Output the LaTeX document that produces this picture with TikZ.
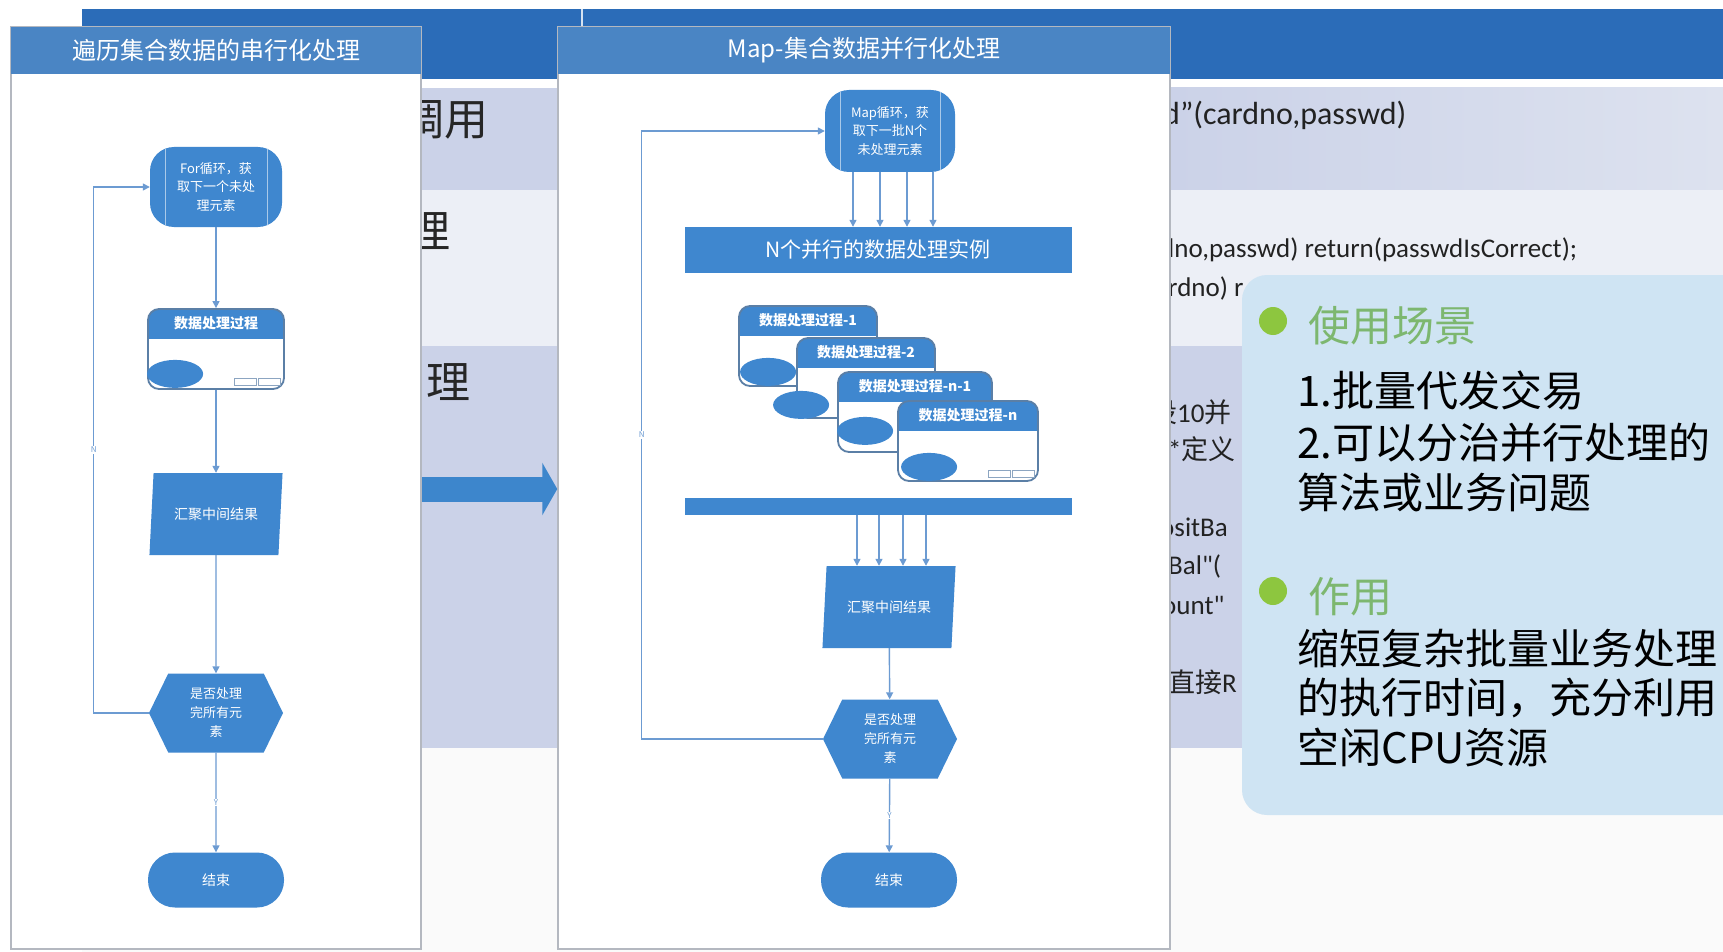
\documentclass[tikz,border=0pt]{standalone}
\usepackage{fontspec}
\setmainfont{Noto Sans CJK SC}
\newfontfamily\codefont{Carlito}
\usetikzlibrary{arrows.meta,shapes.geometric,shapes.symbols}
\definecolor{headblue}{HTML}{2B6CB8}
\definecolor{titleblue}{HTML}{4A85C4}
\definecolor{flowblue}{HTML}{3F87CF}
\definecolor{lineblue}{HTML}{6C9BD2}
\definecolor{cardedge}{HTML}{5B7FA6}
\definecolor{panelgray}{HTML}{B4B8C0}
\definecolor{rowlav}{HTML}{CBD2E8}
\definecolor{rowpale}{HTML}{DDE2EF}
\definecolor{rowlight}{HTML}{ECEFF6}
\definecolor{infoblue}{HTML}{CFE4F3}
\definecolor{dotgreen}{HTML}{8DC63F}
\definecolor{textgreen}{HTML}{7DB76F}
\definecolor{codegray}{HTML}{222222}
\definecolor{arrowblue}{HTML}{3D86CC}

\begin{document}
\begin{tikzpicture}[x=1pt,y=-1pt,
    flow/.style={draw=lineblue,line width=1.4pt,-{Triangle[length=7pt,width=7pt]}},
    blk/.style={fill=flowblue,text=white,inner sep=0pt,align=center},
    loopbox/.style={blk,rounded corners=24pt,minimum width=132pt,minimum height=80pt,font=\fontsize{13}{18.5}\selectfont,
        path picture={\draw[white!55!flowblue,line width=1pt]
            ([xshift=15pt]path picture bounding box.north west) -- ([xshift=15pt]path picture bounding box.south west)
            ([xshift=-15pt]path picture bounding box.north east) -- ([xshift=-15pt]path picture bounding box.south east);}},
    card/.style={draw=cardedge,line width=1.8pt,fill=white,rounded corners=11pt,minimum height=80pt,inner sep=0pt,
        path picture={\fill[flowblue,sharp corners] (path picture bounding box.north west) rectangle ([yshift=-30pt]path picture bounding box.north east);}},
    cardtitle/.style={text=white,inner sep=0pt,font=\fontsize{14}{14}\selectfont\bfseries},
    stripe/.style={draw=cardedge!70,fill=white,line width=0.8pt},
    mergebox/.style={blk,trapezium,trapezium left angle=78,trapezium right angle=102,trapezium stretches=true,
        minimum width=134pt,minimum height=82pt,font=\fontsize{14}{14}\selectfont},
    testbox/.style={blk,signal,signal to=east and west,signal pointer angle=128,minimum width=134pt,minimum height=79pt,
        font=\fontsize{13}{19}\selectfont},
    endbox/.style={blk,rounded corners=27pt,minimum width=136pt,minimum height=55pt,font=\fontsize{14}{14}\selectfont},
    panel/.style={draw=panelgray,line width=1.5pt,fill=white,minimum height=922pt,inner sep=0pt},
    titlebar/.style={fill=titleblue,text=white,minimum height=47pt,inner sep=0pt,font=\fontsize{24}{24}\selectfont},
    flag/.style={text=lineblue,fill=white,inner sep=1pt,font=\fontsize{8}{8}\selectfont},
    codetxt/.style={anchor=west,inner sep=0pt,text=codegray,font=\fontsize{27}{27}\selectfont},
    bigtxt/.style={anchor=east,inner sep=0pt,text=black!85,font=\fontsize{44}{44}\selectfont},
    infotxt/.style={anchor=west,inner sep=0pt,font=\fontsize{42}{42}\selectfont}]

    \useasboundingbox (0,0) rectangle (1723,952);
    \fill[white] (0,0) rectangle (1723,952);
    \fill[headblue] (82,9) rectangle (1723,79);
    \draw[white!80!headblue,line width=1.5pt] (582,9) -- (582,27);
    \fill[rowlav] (82,88) rectangle (1170,190);
    \shade[left color=rowlav,right color=rowpale] (1170,88) rectangle (1723,190);
    \fill[rowlight] (82,190) rectangle (1723,346);
    \fill[rowlav] (82,346) rectangle (1723,748);
    \fill[black!2] (82,748) rectangle (1723,952);

    \node[bigtxt] (callw) at (489,119) {调用};
    \node[bigtxt] (doA) at (451,231) {理};
    \node[bigtxt] (doB) at (471,382) {理};

    \node[codetxt,font=\codefont\fontsize{32}{32}\selectfont] (sig) at (1163,115) {d”(cardno,passwd)};
    \node[codetxt,font=\codefont\fontsize{27}{27}\selectfont] (ret) at (1168,250) {lno,passwd) return(passwdIsCorrect);};
    \node[codetxt,font=\codefont\fontsize{27}{27}\selectfont] (card) at (1168,288) {rdno) r};
    \node[codetxt] (ten) at (1150,412) {设{\codefont 10}并};
    \node[codetxt] (def) at (1168,449) {{\codefont *}定义};
    \node[codetxt,font=\codefont\fontsize{27}{27}\selectfont] (dep) at (1160,527) {ositBa};
    \node[codetxt,font=\codefont\fontsize{27}{27}\selectfont] (bal) at (1168,566) {Bal"(};
    \node[codetxt,font=\codefont\fontsize{27}{27}\selectfont] (amt) at (1162,605) {ount"};
    \node[codetxt] (dir) at (1168,682) {直接{\codefont R}};

    \fill[infoblue,rounded corners=25pt] (1242,275) rectangle (1760,815);
    \fill[dotgreen] (1273,321) circle (14pt);
    \fill[dotgreen] (1273,591) circle (14pt);
    \node[infotxt,text=textgreen] (scene) at (1308,326) {使用场景};
    \node[infotxt] (useA) at (1297,390) {1.批量代发交易};
    \node[infotxt] (useB) at (1297,443) {2.可以分治并行处理的};
    \node[infotxt] (useC) at (1297,492) {算法或业务问题};
    \node[infotxt,text=textgreen] (gain) at (1308,597) {作用};
    \node[infotxt] (gainA) at (1297,648) {缩短复杂批量业务处理};
    \node[infotxt] (gainB) at (1297,698) {的执行时间，充分利用};
    \node[infotxt] (gainC) at (1297,747) {空闲CPU资源};

    \node[panel,minimum width=410pt] (serial) at (216,488) {};
    \node[titlebar,minimum width=410pt] (serialbar) at (216,50.5) {遍历集合数据的串行化处理};
    \node[panel,minimum width=612pt] (para) at (864,488) {};
    \node[titlebar,minimum width=612pt] (parabar) at (864,50.5) {Map-集合数据并行化处理};
    \draw[arrowblue,line width=25pt,-{Triangle[length=15pt,width=52pt]}] (serial.east |- 0,489) -- (para.west |- 0,489);

    \node[loopbox] (lfor) at (216,187) {For循环，获\\取下一个未处\\理元素};
    \node[card,minimum width=136pt] (lproc) at (216,349) {};
    \node[cardtitle] (lproct) at ([yshift=-15pt]lproc.north) {数据处理过程};
    \fill[flowblue] ([xshift=28pt,yshift=16pt]lproc.south west) ellipse (28pt and 14pt);
    \draw[stripe] ([xshift=-51pt,yshift=5pt]lproc.south east) rectangle ++(22,-7)
        ([xshift=-27pt,yshift=5pt]lproc.south east) rectangle ++(22,-7);
    \node[mergebox] (lmerge) at (216,514) {汇聚中间结果};
    \node[testbox] (ltest) at (216,713) {是否处理\\完所有元\\素};
    \node[endbox] (lend) at (216,880) {结束};
    \draw[flow] (lfor) -- (lproc);
    \draw[flow] (lproc) -- (lmerge);
    \draw[flow] (lmerge) -- (ltest);
    \draw[flow] (ltest) -- node[flag]{Y} (lend);
    \draw[flow] (ltest.west) -- ++(-55,0) |- node[flag,pos=0.25]{N} (lfor.west);

    \node[loopbox,minimum width=130pt,minimum height=82pt] (map) at (890,131) {Map循环，获\\取下一批N个\\未处理元素};
    \node[blk,minimum width=387pt,minimum height=46pt,font=\fontsize{21}{21}\selectfont] (inst) at (878,250) {N个并行的数据处理实例};
    \foreach \x in {853,880,907,933} \draw[flow] (\x,0 |- map.south) -- (\x,0 |- inst.north);
    \foreach \n/\cx/\cy/\cw/\ttl/\ex/\ey in {c1/808/346/138/{数据处理过程-1}/30/15,c2/866/378/138/{数据处理过程-2}/5/14,
            c3/915/412/154/{数据处理过程-n-1}/28/22,c4/968/441/140/{数据处理过程-n}/32/15}{
        \node[card,minimum width=\cw pt] (\n) at (\cx,\cy) {};
        \node[cardtitle] (\n-t) at ([yshift=-15pt]\n.north) {\ttl};
        \fill[flowblue] ([xshift=\ex pt,yshift=\ey pt]\n.south west) ellipse (28pt and 14pt);
        \draw[stripe] ([xshift=-51pt,yshift=5pt]\n.south east) rectangle ++(22,-7)
            ([xshift=-27pt,yshift=5pt]\n.south east) rectangle ++(22,-7);
    }
    \node[blk,minimum width=387pt,minimum height=17pt] (bar) at (878,506) {};
    \node[mergebox] (rmerge) at (889,607) {汇聚中间结果};
    \node[testbox] (rtest) at (890,739) {是否处理\\完所有元\\素};
    \node[endbox] (rend) at (889,880) {结束};
    \foreach \x in {857,879,903,926} \draw[flow] (\x,0 |- bar.south) -- (\x,0 |- rmerge.north);
    \draw[flow] (rmerge) -- (rtest);
    \draw[flow] (rtest) -- node[flag]{Y} (rend);
    \draw[flow] (rtest.west) -- ++(-181,0) |- node[flag,pos=0.25]{N} (map.west);
\end{tikzpicture}
\end{document}
